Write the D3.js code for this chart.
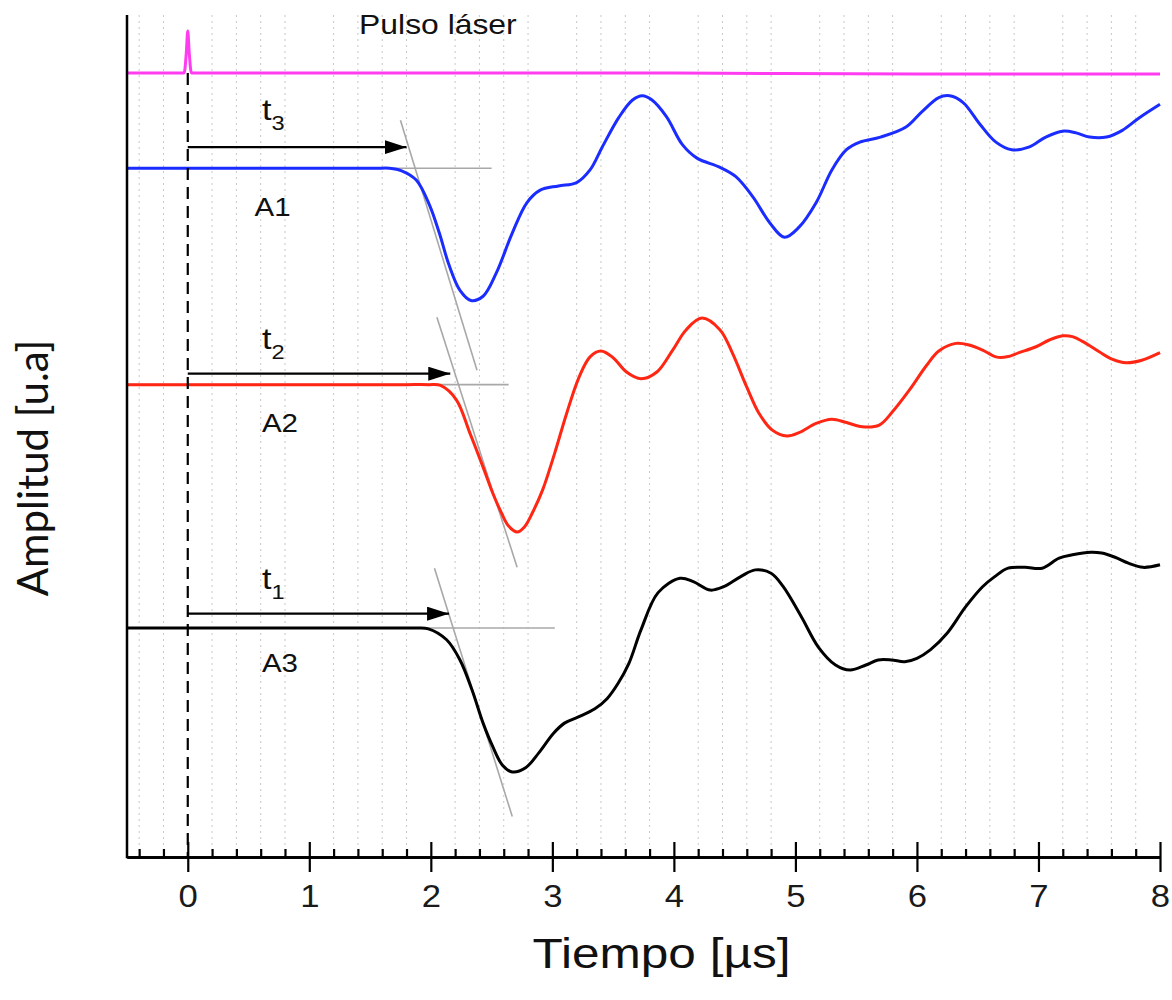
<!DOCTYPE html>
<html><head><meta charset="utf-8">
<script src="https://cdn.jsdelivr.net/npm/d3@7"></script>
<style>body{margin:0;background:#fff}</style>
</head><body><svg id="c" width="1172" height="1000"></svg>
<script>
// ---- data (time in µs, amplitude in arbitrary units) ----
const laser = [[-0.5,93.1],[-0.25,93.1],[-0.03,93.1],[-0.012,95.5],[0.0,98.1],[0.012,95.5],[0.03,93.1],[0.5,93.1],[2,93.1],[4,93.1],[6,93.0],[8,93.0]];
const a1 = [[-0.5,81.8],[0.0,81.8],[0.5,81.8],[1.0,81.8],[1.3,81.8],[1.55,81.8],[1.66,81.8],[1.76,81.5],[1.88,80.4],[1.99,77.4],[2.07,74.1],[2.15,70.3],[2.24,67.3],[2.33,66.1],[2.43,66.6],[2.54,69.4],[2.67,74.1],[2.79,77.7],[2.90,79.2],[3.05,79.7],[3.2,80.1],[3.31,81.6],[3.41,84.3],[3.55,87.9],[3.66,89.9],[3.74,90.4],[3.82,89.9],[3.94,87.9],[4.07,84.6],[4.19,83.0],[4.38,81.9],[4.51,80.8],[4.65,78.4],[4.79,75.3],[4.91,73.6],[5.03,74.8],[5.17,77.7],[5.30,81.6],[5.42,84.0],[5.53,84.9],[5.70,85.5],[5.91,86.7],[6.04,88.5],[6.18,90.2],[6.27,90.4],[6.38,89.6],[6.52,87.0],[6.65,84.9],[6.78,84.0],[6.92,84.3],[7.06,85.5],[7.20,86.2],[7.31,86.0],[7.42,85.5],[7.56,85.5],[7.69,86.3],[7.83,87.8],[8.0,89.4]];
const a2 = [[-0.5,56.1],[0.0,56.1],[0.5,56.1],[1.0,56.1],[1.5,56.1],[1.8,56.1],[1.98,56.1],[2.08,56.0],[2.21,54.3],[2.32,50.4],[2.43,46.3],[2.51,43.2],[2.58,40.9],[2.64,39.3],[2.71,38.6],[2.77,39.2],[2.84,41.0],[2.92,43.6],[3.02,48.0],[3.12,52.8],[3.22,57.0],[3.31,59.4],[3.40,60.1],[3.50,59.3],[3.61,57.6],[3.73,56.8],[3.86,57.6],[3.99,60.2],[4.10,62.6],[4.23,64.0],[4.38,62.6],[4.48,59.9],[4.60,55.8],[4.70,52.7],[4.81,50.7],[4.93,50.0],[5.03,50.4],[5.17,51.5],[5.30,52.0],[5.42,51.6],[5.55,51.1],[5.69,51.3],[5.80,52.9],[5.94,55.5],[6.08,58.4],[6.18,60.1],[6.32,61.0],[6.43,60.8],[6.54,60.2],[6.65,59.4],[6.74,59.4],[6.84,59.9],[6.98,60.6],[7.09,61.4],[7.20,61.9],[7.28,61.8],[7.39,61.0],[7.50,60.0],[7.61,59.1],[7.72,58.7],[7.85,59.0],[8.0,59.9]];
const a3 = [[-0.5,27.2],[0.0,27.2],[0.5,27.2],[1.0,27.2],[1.5,27.2],[1.75,27.2],[1.88,27.2],[1.98,27.1],[2.13,25.8],[2.24,23.4],[2.34,19.8],[2.43,15.9],[2.51,13.1],[2.59,10.9],[2.67,10.1],[2.78,10.6],[2.89,12.4],[3.01,14.7],[3.10,15.9],[3.21,16.6],[3.35,17.6],[3.45,18.8],[3.54,20.6],[3.63,23.0],[3.73,27.0],[3.87,31.4],[4.05,33.1],[4.16,32.7],[4.30,31.7],[4.41,32.1],[4.55,33.3],[4.67,34.1],[4.80,33.7],[4.90,32.1],[5.05,28.5],[5.19,24.9],[5.33,22.8],[5.45,22.2],[5.58,22.8],[5.68,23.4],[5.79,23.4],[5.90,23.2],[6.00,23.6],[6.11,24.6],[6.25,26.6],[6.40,29.7],[6.54,32.1],[6.64,33.3],[6.75,34.3],[6.89,34.4],[7.03,34.3],[7.17,35.5],[7.28,35.9],[7.43,36.2],[7.52,36.1],[7.63,35.6],[7.74,34.9],[7.86,34.4],[8.0,34.7]];

// tangent construction lines (gray): horizontal baseline end and slanted tangent
const baselines = [[81.8,2.50],[56.1,2.64],[27.2,3.02]];
const tangents = [[[1.75,87.5],[2.38,57.8]],[[2.05,64.1],[2.71,34.4]],[[2.03,34.3],[2.67,4.8]]];
// arrows: [amplitude level, tip time]
const arrows = [[84.3,1.80],[57.4,2.16],[28.9,2.15]];
const arrowLabels = [["t","3",0.61,87.5],["t","2",0.61,60.3],["t","1",0.61,31.8]];
const traceLabels = [["A1",0.55,76.1],["A2",0.61,50.5],["A3",0.61,22.0]];
const laserLabel = ["Pulso láser",1.41,97.7];

const majorTicks = [0,1,2,3,4,5,6,7,8];
const minorTicks = [-0.4,-0.2,0.2,0.4,0.6,0.8,1.2,1.4,1.6,1.8,2.2,2.4,2.6,2.8,3.2,3.4,3.6,3.8,4.2,4.4,4.6,4.8,5.2,5.4,5.6,5.8,6.2,6.4,6.6,6.8,7.2,7.4,7.6,7.8];
const xTitle = "Tiempo [µs]";
const yTitle = "Amplitud [u.a]";

// ---- chart ----
const svg = d3.select("#c");
const x = d3.scaleLinear().domain([-0.5,8]).range([127,1160]);
const y = d3.scaleLinear().domain([0,100]).range([857,15]);
const SX = 1.18;
const font = "'Liberation Sans', Arial, sans-serif";

svg.append("rect").attr("width",1172).attr("height",1000).attr("fill","#fff");

// grid
svg.append("g").selectAll("line").data(minorTicks).join("line")
  .attr("x1",d=>x(d)).attr("x2",d=>x(d)).attr("y1",y(100)).attr("y2",y(0))
  .attr("stroke","#c8c8c8").attr("stroke-width",1).attr("stroke-dasharray","2,4");

// gray construction lines
const g0 = svg.append("g").attr("stroke","#a8a8a8").attr("stroke-width",1.6).attr("fill","none");
baselines.forEach(b=>g0.append("line").attr("x1",x(-0.5)).attr("x2",x(b[1])).attr("y1",y(b[0])).attr("y2",y(b[0])));
tangents.forEach(t=>g0.append("line").attr("x1",x(t[0][0])).attr("y1",y(t[0][1])).attr("x2",x(t[1][0])).attr("y2",y(t[1][1])));

// traces
const smooth = d3.line().x(d=>x(d[0])).y(d=>y(d[1])).curve(d3.curveCatmullRom.alpha(0.5));
const mono = d3.line().x(d=>x(d[0])).y(d=>y(d[1])).curve(d3.curveMonotoneX);
[[laser,"#ff3cf0",mono],[a1,"#1a2cff",smooth],[a2,"#ff2613",smooth],[a3,"#000",smooth]].forEach(([d,c,gen])=>{
  svg.append("path").datum(d).attr("d",gen).attr("fill","none").attr("stroke",c)
    .attr("stroke-width",3).attr("stroke-linejoin","round");
});

// dashed t=0 line
svg.append("line").attr("x1",x(0)).attr("x2",x(0)).attr("y1",y(laser[1][1])).attr("y2",y(0))
  .attr("stroke","#000").attr("stroke-width",2.2).attr("stroke-dasharray","12,7");

// arrows
svg.append("defs").append("marker").attr("id","ah").attr("markerUnits","userSpaceOnUse")
  .attr("markerWidth",22).attr("markerHeight",14).attr("refX",22).attr("refY",7).attr("orient","auto")
  .append("path").attr("d","M0,0 L22,7 L0,14 Z").attr("fill","#000");
arrows.forEach(a=>svg.append("line").attr("x1",x(0)).attr("x2",x(a[1])).attr("y1",y(a[0])).attr("y2",y(a[0]))
  .attr("stroke","#000").attr("stroke-width",2.2).attr("marker-end","url(#ah)"));

// axes
const gx = svg.append("g").attr("transform",`translate(0,${y(0)})`);
gx.call(d3.axisTop(x).tickValues(minorTicks).tickSize(8).tickSizeOuter(0).tickFormat(""));
gx.append("g").call(d3.axisTop(x).tickValues(majorTicks).tickSize(15).tickSizeOuter(0).tickFormat(""));
gx.append("g").call(d3.axisBottom(x).tickValues(majorTicks).tickSize(15).tickSizeOuter(0).tickPadding(13).tickFormat(d3.format("d")));
gx.selectAll("path.domain").attr("stroke","#000").attr("stroke-width",2.5);
gx.selectAll(".tick line").attr("stroke","#000").attr("stroke-width",2.2);
gx.selectAll(".tick text").attr("font-family",font).attr("font-size",31).attr("fill","#1a1a1a")
  .attr("transform",`scale(1.12,1)`);
svg.append("line").attr("x1",x(-0.5)).attr("x2",x(-0.5)).attr("y1",y(100)).attr("y2",y(0)+1.2)
  .attr("stroke","#000").attr("stroke-width",2.5);

// texts
function stretched(txt, px, py, size){
  return svg.append("text").attr("transform",`translate(${px},${py}) scale(${SX},1)`)
    .attr("font-family",font).attr("font-size",size).attr("fill","#111").text(txt);
}
stretched(laserLabel[0], x(laserLabel[1]), y(laserLabel[2]), 27);
traceLabels.forEach(l=>stretched(l[0], x(l[1]), y(l[2]), 25));
arrowLabels.forEach(l=>{
  const t = stretched(l[0], x(l[2]), y(l[3]), 29);
  t.append("tspan").attr("font-size",20).attr("dy",10).text(l[1]);
});
svg.append("text").attr("transform",`translate(${(x(-0.5)+x(8))/2+18},968) scale(${SX},1)`)
  .attr("text-anchor","middle").attr("font-family",font).attr("font-size",42).attr("fill","#111").text(xTitle);
svg.append("text").attr("transform",`translate(48,468) rotate(-90)`)
  .attr("text-anchor","middle").attr("font-family","Lato, 'Open Sans', sans-serif").attr("font-size",42).attr("fill","#111").text(yTitle);
</script></body></html>
